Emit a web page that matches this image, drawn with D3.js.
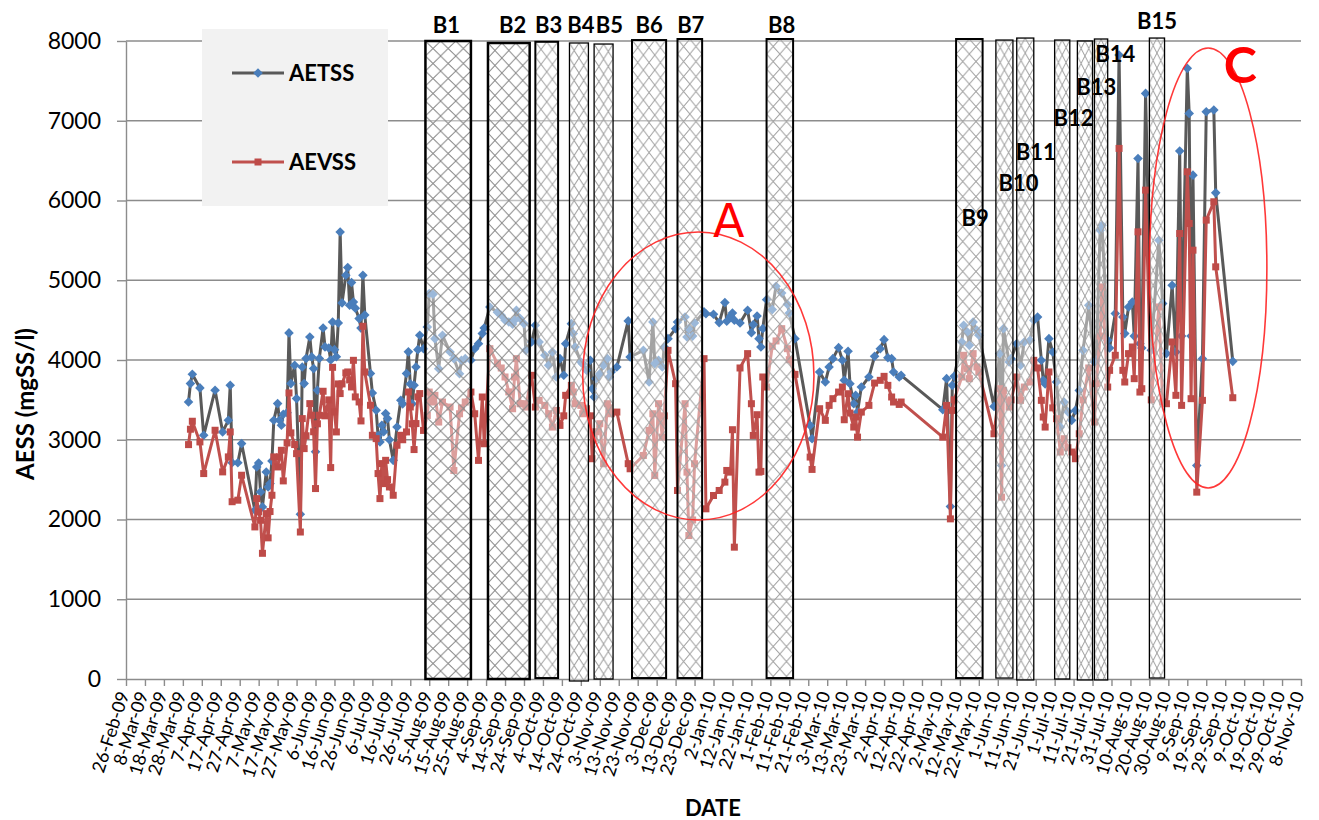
<!DOCTYPE html>
<html>
<head>
<meta charset="utf-8">
<script src="https://cdn.jsdelivr.net/npm/d3@7"></script>
<style>
  body { margin: 0; background: #fff; }
  text { font-family: Lato, "Noto Sans", sans-serif; }
</style>
</head>
<body>
<svg id="chart" width="1319" height="820"></svg>
<script>
// sampling dates (d-Mon-yy), shared by both series
const dates = [
  "31-Mar-09","1-Apr-09","2-Apr-09","6-Apr-09","8-Apr-09","14-Apr-09","18-Apr-09","21-Apr-09","22-Apr-09","23-Apr-09","26-Apr-09","28-Apr-09",
  "5-May-09","6-May-09","7-May-09","8-May-09","9-May-09","11-May-09","12-May-09","13-May-09","14-May-09","15-May-09","17-May-09","18-May-09","19-May-09","20-May-09","22-May-09","23-May-09","24-May-09","26-May-09","27-May-09","29-May-09","30-May-09","31-May-09",
  "1-Jun-09","3-Jun-09","4-Jun-09","5-Jun-09","6-Jun-09","7-Jun-09","8-Jun-09","10-Jun-09","11-Jun-09","13-Jun-09","14-Jun-09","15-Jun-09","16-Jun-09","17-Jun-09","18-Jun-09","19-Jun-09","20-Jun-09","22-Jun-09","23-Jun-09","24-Jun-09","25-Jun-09","26-Jun-09","27-Jun-09","29-Jun-09","30-Jun-09",
  "1-Jul-09","2-Jul-09","5-Jul-09","6-Jul-09","8-Jul-09","9-Jul-09","10-Jul-09","11-Jul-09","12-Jul-09","13-Jul-09","14-Jul-09","15-Jul-09","17-Jul-09","19-Jul-09","21-Jul-09","22-Jul-09","24-Jul-09","25-Jul-09","26-Jul-09","27-Jul-09","28-Jul-09","29-Jul-09","30-Jul-09","31-Jul-09",
  "2-Aug-09","4-Aug-09","5-Aug-09","7-Aug-09","8-Aug-09","10-Aug-09","12-Aug-09","16-Aug-09","18-Aug-09","21-Aug-09","22-Aug-09","24-Aug-09","27-Aug-09","29-Aug-09","31-Aug-09",
  "2-Sep-09","3-Sep-09","6-Sep-09","10-Sep-09","12-Sep-09","14-Sep-09","16-Sep-09","18-Sep-09","19-Sep-09","20-Sep-09","22-Sep-09","24-Sep-09","25-Sep-09","28-Sep-09","30-Sep-09",
  "2-Oct-09","5-Oct-09","7-Oct-09","9-Oct-09","11-Oct-09","13-Oct-09","15-Oct-09","16-Oct-09","19-Oct-09","20-Oct-09","21-Oct-09","24-Oct-09","25-Oct-09","27-Oct-09","29-Oct-09","30-Oct-09","31-Oct-09",
  "1-Nov-09","3-Nov-09","5-Nov-09","7-Nov-09","8-Nov-09","9-Nov-09","12-Nov-09","18-Nov-09","19-Nov-09","26-Nov-09","29-Nov-09",
  "1-Dec-09","2-Dec-09","4-Dec-09","6-Dec-09","7-Dec-09","9-Dec-09","13-Dec-09","14-Dec-09","18-Dec-09","19-Dec-09","20-Dec-09","22-Dec-09","23-Dec-09","28-Dec-09","29-Dec-09",
  "2-Jan-10","5-Jan-10","8-Jan-10","9-Jan-10","11-Jan-10","12-Jan-10","13-Jan-10","16-Jan-10","20-Jan-10","22-Jan-10","23-Jan-10","25-Jan-10","26-Jan-10","27-Jan-10","28-Jan-10","30-Jan-10",
  "2-Feb-10","4-Feb-10","7-Feb-10","10-Feb-10","11-Feb-10","14-Feb-10","22-Feb-10","23-Feb-10","27-Feb-10",
  "2-Mar-10","4-Mar-10","6-Mar-10","9-Mar-10","11-Mar-10","12-Mar-10","14-Mar-10","15-Mar-10","17-Mar-10","18-Mar-10","19-Mar-10","21-Mar-10","25-Mar-10","28-Mar-10","31-Mar-10",
  "2-Apr-10","4-Apr-10","6-Apr-10","7-Apr-10","10-Apr-10","11-Apr-10",
  "3-May-10","5-May-10","7-May-10","8-May-10","9-May-10","13-May-10","14-May-10","16-May-10","17-May-10","19-May-10","21-May-10","22-May-10","30-May-10",
  "2-Jun-10","3-Jun-10","4-Jun-10","7-Jun-10","8-Jun-10","11-Jun-10","13-Jun-10","15-Jun-10","18-Jun-10","20-Jun-10","22-Jun-10","24-Jun-10","25-Jun-10","26-Jun-10","28-Jun-10","30-Jun-10",
  "2-Jul-10","4-Jul-10","6-Jul-10","8-Jul-10","10-Jul-10","12-Jul-10","14-Jul-10","16-Jul-10","19-Jul-10","22-Jul-10","23-Jul-10","25-Jul-10","26-Jul-10","29-Jul-10","30-Jul-10",
  "2-Aug-10","4-Aug-10","6-Aug-10","7-Aug-10","9-Aug-10","11-Aug-10","12-Aug-10","14-Aug-10","15-Aug-10","16-Aug-10","18-Aug-10","21-Aug-10","25-Aug-10","27-Aug-10","29-Aug-10",
  "1-Sep-10","3-Sep-10","5-Sep-10","6-Sep-10","9-Sep-10","10-Sep-10","11-Sep-10","12-Sep-10","14-Sep-10","17-Sep-10","19-Sep-10","23-Sep-10","24-Sep-10",
  "3-Oct-10"
];

const aetss = [
  3474,3704,3821,3650,3056,3621,3098,3244,3683,2712,2712,2952,
  2116,2659,2709,2346,2158,2596,2408,2450,2734,3244,3453,3244,3182,3320,3340,4340,3704,3934,3516,2065,3913,3704,
  4018,4289,4039,3892,2850,3621,4018,4402,4164,4150,4000,4477,4130,4040,4465,5605,4716,5063,5159,4686,4971,4728,4650,4519,4400,
  5063,4565,3830,3587,3370,3050,2973,3182,3100,3328,3265,3000,2742,3160,3495,3450,3830,4102,3700,3450,3683,3913,4130,4310,
  4142,4414,4833,4824,4268,3891,4310,4100,4017,3828,3996,4017,3996,4142,4205,
  4331,4400,4665,4600,4561,4500,4477,4450,4500,4623,4519,4456,4121,4226,4435,
  4226,4059,3933,4100,3787,4017,3808,4205,4456,4331,4163,3975,3950,3870,3996,3640,3536,
  3766,3828,3933,4017,3787,3850,3912,4490,4038,4121,3724,
  4477,3954,3996,3912,4163,4268,4393,4477,4540,4289,4393,4300,4464,4603,4580,
  4573,4469,4720,4485,4550,4590,4500,4464,4623,4343,4444,4552,4268,4163,4393,4757,
  4632,4925,4841,4699,4590,4268,3180,3013,3849,
  3724,3912,4017,4155,3996,3745,4109,3703,3452,3557,3347,3661,3787,4046,4142,
  4255,4029,4017,3849,3787,3808,
  3377,3766,2163,3682,3795,4226,4435,4351,4184,4477,4372,4310,3418,
  4080,2678,4393,3975,4017,4205,3933,4226,4247,4498,4540,3996,3745,3700,4268,4100,
  3724,3159,3473,3350,3243,3368,3619,4121,4686,3975,4000,5628,5690,4247,4150,
  4582,7824,4540,4331,4665,4728,4300,6527,4205,4150,7343,4122,5502,4707,4080,
  4937,4100,6620,4300,7657,7092,4300,6318,2678,4017,7113,7134,6096,
  3983
];

const aevss = [
  2939,3132,3232,2973,2576,3119,2597,2785,3098,2223,2242,2555,
  1907,2262,2095,1990,1576,2074,1770,2100,2304,2785,2659,2785,2868,2484,2960,3587,3086,2940,2826,1843,3265,2889,
  3050,3453,3307,3100,2388,3200,3307,3608,3300,3500,2651,3908,3349,3098,3700,3579,3700,3838,3850,3750,3662,3996,3537,3474,3236,
  4423,3850,3432,3056,3014,2576,2262,2701,2450,2742,2500,2408,2304,2931,3056,3000,3098,3599,3411,3200,2877,3203,3537,3579,
  3117,3305,3598,3473,3557,3222,3473,3410,2615,3326,3400,3473,3598,3326,2741,
  3536,2950,4142,3954,3900,3787,3600,3389,3787,4017,3452,3452,3410,3808,3410,
  3494,3431,3326,3159,3368,3180,3300,3557,3682,3600,3452,3431,3326,3389,3300,2762,3013,
  3100,3201,2699,3452,3400,3326,3347,2700,2636,2803,3117,
  3326,2552,3452,3033,3300,4121,3703,2364,3452,2594,1799,1994,2699,4017,2134,
  2301,2364,2469,2615,2594,3126,1653,3900,4080,3452,3054,3314,2594,2603,3787,3661,
  4172,4239,4393,4142,4004,3820,2783,2628,3389,
  3243,3431,3515,3598,3661,3251,3577,3335,3159,3285,3033,3347,3431,3711,3745,
  3795,3682,3536,3473,3443,3473,
  3033,3431,2008,3368,3500,3787,4059,3891,3766,4080,3912,3850,3075,
  3640,2280,3619,3410,3500,3787,3494,3661,3724,3996,3900,3494,3285,3159,3850,3400,
  3264,2846,3013,2900,2846,2762,3075,3500,3900,3222,3703,4300,4916,3661,3870,
  4059,6653,3870,3724,4080,4163,3766,5607,3598,3640,6130,3500,4665,3473,3452,
  4226,3557,5586,3431,6360,5712,3515,5377,2343,3494,5754,5984,5168,
  3527
];

// x axis: ticks every 10 days between these dates
const xStart = "26-Feb-09";
const xEnd = "8-Nov-10";
const yTicks = [0, 1000, 2000, 3000, 4000, 5000, 6000, 7000, 8000];

// hatched periods B1..B15
const barNames = ["B1","B2","B3","B4","B5","B6","B7","B8","B9","B10","B11","B12","B13","B14","B15"];
const barStart = ["3-Aug-09","5-Sep-09","30-Sep-09","18-Oct-09","31-Oct-09","20-Nov-09","14-Dec-09","30-Jan-10",
                  "10-May-10","31-May-10","11-Jun-10","1-Jul-10","13-Jul-10","22-Jul-10","20-Aug-10"];
const barEnd   = ["27-Aug-09","27-Sep-09","12-Oct-09","28-Oct-09","10-Nov-09","8-Dec-09","27-Dec-09","13-Feb-10",
                  "24-May-10","9-Jun-10","20-Jun-10","9-Jul-10","21-Jul-10","29-Jul-10","28-Aug-10"];
const barLow   = [0, 0, 12, -25, 0, 12, 12, 12, 12, 12, -12, 0, -12, -12, 12];
const barHigh  = [8000, 7975, 7990, 7975, 7962, 8012, 8025, 8025, 8025, 8012, 8037, 8012, 8000, 8025, 8037];
const barLabelDate  = ["14-Aug-09","18-Sep-09","7-Oct-09","24-Oct-09","8-Nov-09","29-Nov-09","21-Dec-09","7-Feb-10",
                       "20-May-10","12-Jun-10","21-Jun-10","11-Jul-10","23-Jul-10","2-Aug-10","24-Aug-10"];
const barLabelValue = [8100, 8100, 8100, 8100, 8100, 8100, 8100, 8100, 5681, 6120, 6508, 6935, 7323, 7737, 8151];

// circled zones
const zoneNames = ["A", "C"];
const zoneFrom = ["25-Oct-09", "20-Aug-10"];
const zoneTo   = ["24-Feb-10", "21-Oct-10"];
const zoneLow  = [1994, 2395];
const zoneHigh = [5605, 7913];
const zoneLabelDate  = ["10-Jan-10", "7-Oct-10"];
const zoneLabelValue = [5543, 7474];

const parse = d3.timeParse("%d-%b-%y");
const fmt = d3.timeFormat("%-d-%b-%y");

const svg = d3.select("#chart");
const x = d3.scaleTime().domain([parse(xStart), parse(xEnd)]).range([126, 1301]);
const y = d3.scaleLinear().domain([0, 8000]).range([679, 41]);

const gridCol = "#8c8c8c";

// grid
svg.append("g").selectAll("line").data(yTicks.filter(v => v > 0)).join("line")
  .attr("x1", 126).attr("x2", 1301)
  .attr("y1", d => y(d)).attr("y2", d => y(d))
  .attr("stroke", gridCol).attr("stroke-width", 1.4);

// y axis
const yAxis = svg.append("g").attr("transform", "translate(126,0)")
  .call(d3.axisLeft(y).tickValues(yTicks).tickFormat(d3.format("d"))
    .tickSize(9).tickSizeOuter(0).tickPadding(16));
yAxis.select(".domain").attr("stroke", gridCol).attr("stroke-width", 1.4);
yAxis.selectAll(".tick line").attr("stroke", gridCol).attr("stroke-width", 1.4);
yAxis.selectAll("text").attr("font-size", 23).attr("fill", "#000")
  .style("font-family", "Lato, sans-serif");

// x axis
const t0 = parse(xStart), t1 = parse(xEnd);
const xTicks = [];
for (let t = t0; t <= t1; t = d3.timeDay.offset(t, 10)) xTicks.push(t);
const xAxis = svg.append("g").attr("transform", "translate(0,679)")
  .call(d3.axisBottom(x).tickValues(xTicks).tickFormat(fmt).tickSize(7).tickSizeOuter(0));
xAxis.select(".domain").attr("stroke", gridCol).attr("stroke-width", 1.4);
xAxis.selectAll(".tick line").attr("stroke", gridCol).attr("stroke-width", 1.4);
xAxis.selectAll("text")
  .attr("font-size", 18).attr("fill", "#000")
  .style("font-family", "Lato, sans-serif")
  .attr("text-anchor", "end")
  .attr("dy", "0.35em")
  .attr("transform", "translate(-3,13) rotate(-72)")
  .attr("x", 0).attr("y", 0);

// series
const rows = dates.map((d, i) => ({ date: parse(d), tss: aetss[i], vss: aevss[i] }));

const lineTss = d3.line().x(d => x(d.date)).y(d => y(d.tss));
const lineVss = d3.line().x(d => x(d.date)).y(d => y(d.vss));
const diamond = "M0,-4.8L4.8,0L0,4.8L-4.8,0Z";

svg.append("path").datum(rows).attr("d", lineTss)
  .attr("fill", "none").attr("stroke", "#595959").attr("stroke-width", 3).attr("stroke-linejoin", "round");
svg.append("g").selectAll("path").data(rows).join("path")
  .attr("d", diamond)
  .attr("transform", d => `translate(${x(d.date)},${y(d.tss)})`)
  .attr("fill", "#4a7ebb");

svg.append("path").datum(rows).attr("d", lineVss)
  .attr("fill", "none").attr("stroke", "#c0504d").attr("stroke-width", 3).attr("stroke-linejoin", "round");
svg.append("g").selectAll("rect").data(rows).join("rect")
  .attr("x", d => x(d.date) - 3.5).attr("y", d => y(d.vss) - 3.5)
  .attr("width", 7).attr("height", 7)
  .attr("fill", "#be4b48");

// hatched bars
const defs = svg.append("defs");
const barData = barNames.map((n, i) => {
  const x0 = x(parse(barStart[i])), x1 = x(parse(barEnd[i]));
  return { name: n, x0, x1, w: x1 - x0, lo: barLow[i], hi: barHigh[i],
           lx: x(parse(barLabelDate[i])), ly: y(barLabelValue[i]) };
});

barData.forEach((b, i) => {
  const n = Math.max(2, Math.round(b.w / 13));
  const cw = b.w / n, ch = 15;
  const p = defs.append("pattern").attr("id", "hatch" + i)
    .attr("patternUnits", "userSpaceOnUse")
    .attr("x", b.x0).attr("y", y(b.hi))
    .attr("width", cw).attr("height", ch);
  p.append("path")
    .attr("d", `M0,0L${cw},${ch}M${cw},0L0,${ch}`)
    .attr("stroke", b.w > 40 ? "#8a8a8a" : "#a0a0a0").attr("stroke-width", 1).attr("fill", "none");
});

const bg = svg.append("g");
barData.forEach((b, i) => {
  const g = bg.append("g");
  const yy = y(b.hi), hh = y(b.lo) - y(b.hi);
  g.append("rect").attr("x", b.x0).attr("y", yy).attr("width", b.w).attr("height", hh)
    .attr("fill", "#fff").attr("fill-opacity", 0.45);
  g.append("rect").attr("x", b.x0).attr("y", yy).attr("width", b.w).attr("height", hh)
    .attr("fill", `url(#hatch${i})`);
  g.append("rect").attr("x", b.x0).attr("y", yy).attr("width", b.w).attr("height", hh)
    .attr("fill", "none").attr("stroke", "#000")
    .attr("stroke-width", b.w > 40 ? 2.5 : (b.w > 19 ? 2 : 1.3));
});

// bar labels above everything
svg.append("g").selectAll("text").data(barData).join("text")
  .attr("x", d => d.lx).attr("y", d => d.ly)
  .attr("text-anchor", "middle").attr("font-weight", "bold").attr("font-size", 22)
  .text(d => d.name);

// circled zones
zoneNames.forEach((z, i) => {
  const xl = x(parse(zoneFrom[i])), xr = x(parse(zoneTo[i]));
  const yt = y(zoneHigh[i]), yb = y(zoneLow[i]);
  svg.append("ellipse")
    .attr("cx", (xl + xr) / 2).attr("cy", (yt + yb) / 2)
    .attr("rx", (xr - xl) / 2).attr("ry", (yb - yt) / 2)
    .attr("fill", "none").attr("stroke", "#f22").attr("stroke-width", 1.6).attr("stroke-opacity", 0.9);
  svg.append("text")
    .attr("x", x(parse(zoneLabelDate[i]))).attr("y", y(zoneLabelValue[i]))
    .attr("text-anchor", "middle")
    .attr("fill", "#ff0000")
    .attr("font-weight", z === "C" ? "bold" : "normal")
    .attr("font-size", z === "C" ? 50 : 46)
    .style("font-family", z === "C" ? "Lato, sans-serif" : "'DejaVu Sans', sans-serif")
    .text(z);
});

// legend
const lg = svg.append("g");
lg.append("rect").attr("x", 202).attr("y", 29).attr("width", 186).attr("height", 177).attr("fill", "#f2f2f2");
lg.append("line").attr("x1", 232).attr("x2", 284).attr("y1", 73).attr("y2", 73)
  .attr("stroke", "#595959").attr("stroke-width", 3);
lg.append("path").attr("d", diamond).attr("transform", "translate(258,73)").attr("fill", "#4a7ebb");
lg.append("text").attr("x", 289).attr("y", 81).attr("font-weight", "bold").attr("font-size", 22).text("AETSS");
lg.append("line").attr("x1", 232).attr("x2", 284).attr("y1", 162).attr("y2", 162)
  .attr("stroke", "#c0504d").attr("stroke-width", 3);
lg.append("rect").attr("x", 254.5).attr("y", 158.5).attr("width", 7).attr("height", 7).attr("fill", "#be4b48");
lg.append("text").attr("x", 289).attr("y", 170).attr("font-weight", "bold").attr("font-size", 22).text("AEVSS");

// axis titles
svg.append("text").attr("transform", "translate(34,404) rotate(-90)")
  .attr("text-anchor", "middle").attr("font-weight", "bold").attr("font-size", 24)
  .text("AESS (mgSS/l)");
svg.append("text").attr("x", 713).attr("y", 816)
  .attr("text-anchor", "middle").attr("font-weight", "bold").attr("font-size", 22)
  .text("DATE");
</script>
</body>
</html>
